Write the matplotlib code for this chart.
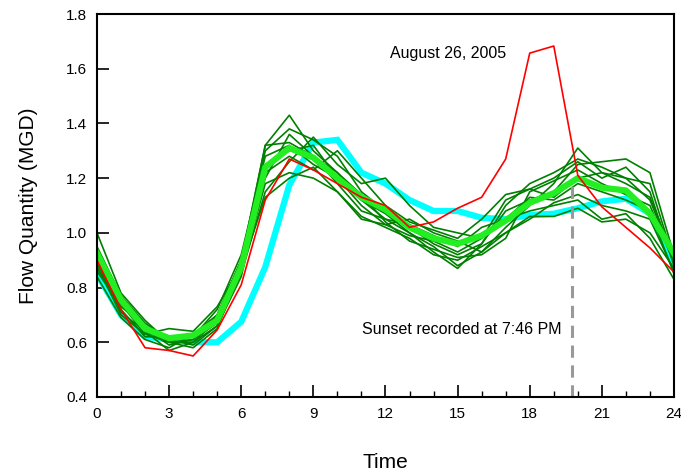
import matplotlib
matplotlib.use('agg')
import matplotlib.pyplot as plt
from matplotlib.ticker import MultipleLocator

plt.rcParams['font.family'] = ['Liberation Sans', 'DejaVu Sans']

hours = list(range(25))

# August 26, 2005
aug26 = [0.90, 0.72, 0.58, 0.57, 0.55, 0.645, 0.81, 1.12, 1.27, 1.23, 1.18, 1.13, 1.10,
         1.02, 1.04, 1.09, 1.13, 1.27, 1.657, 1.683, 1.21, 1.095, 1.02, 0.945, 0.857]

# cyan thick curve
cyan_curve = [0.85, 0.70, 0.62, 0.61, 0.60, 0.60, 0.675, 0.875, 1.175, 1.33, 1.34, 1.22, 1.18,
              1.12, 1.08, 1.08, 1.055, 1.05, 1.065, 1.07, 1.09, 1.115, 1.125, 1.07, 0.89]

# bright green average
avg_curve = [0.925, 0.755, 0.65, 0.615, 0.625, 0.68, 0.875, 1.24, 1.31, 1.275, 1.20, 1.13, 1.085,
             1.02, 0.98, 0.96, 0.99, 1.045, 1.11, 1.145, 1.20, 1.165, 1.155, 1.07, 0.925]

# individual days (thin dark green)
days = [
    [1.00, 0.78, 0.68, 0.60, 0.61, 0.70, 0.90, 1.32, 1.43, 1.30, 1.22, 1.12, 1.05, 1.00, 0.95, 0.88, 0.93, 1.02, 1.10, 1.18, 1.31, 1.22, 1.20, 1.12, 0.90],
    [0.93, 0.75, 0.64, 0.57, 0.60, 0.68, 0.88, 1.30, 1.38, 1.34, 1.28, 1.15, 1.08, 1.02, 0.96, 0.92, 0.96, 1.08, 1.12, 1.15, 1.25, 1.26, 1.27, 1.22, 0.92],
    [0.90, 0.72, 0.62, 0.62, 0.62, 0.72, 0.92, 1.28, 1.32, 1.25, 1.20, 1.10, 1.03, 0.99, 0.97, 0.93, 0.98, 1.12, 1.16, 1.20, 1.26, 1.20, 1.24, 1.15, 0.88],
    [0.88, 0.70, 0.63, 0.65, 0.64, 0.73, 0.88, 1.20, 1.36, 1.28, 1.18, 1.08, 1.05, 1.03, 0.99, 0.95, 1.02, 1.05, 1.08, 1.10, 1.12, 1.05, 1.07, 0.98, 0.83],
    [0.86, 0.73, 0.66, 0.61, 0.59, 0.66, 0.85, 1.15, 1.26, 1.35, 1.25, 1.18, 1.20, 1.10, 1.02, 1.00, 0.98, 1.05, 1.13, 1.12, 1.18, 1.15, 1.12, 1.08, 0.85],
    [0.92, 0.76, 0.65, 0.59, 0.61, 0.67, 0.86, 1.18, 1.22, 1.20, 1.15, 1.05, 1.03, 1.05, 1.00, 0.97, 0.93, 1.00, 1.06, 1.06, 1.09, 1.04, 1.05, 1.00, 0.87],
    [0.84, 0.69, 0.61, 0.58, 0.63, 0.70, 0.90, 1.25, 1.30, 1.32, 1.20, 1.12, 1.07, 1.00, 0.93, 0.87, 0.96, 1.10, 1.18, 1.22, 1.27, 1.24, 1.20, 1.18, 0.90],
    [0.89, 0.71, 0.64, 0.60, 0.58, 0.65, 0.87, 1.13, 1.20, 1.24, 1.15, 1.06, 1.02, 0.98, 0.92, 0.90, 0.95, 1.00, 1.05, 1.11, 1.14, 1.10, 1.08, 1.05, 0.86],
    [0.95, 0.77, 0.67, 0.61, 0.62, 0.69, 0.89, 1.32, 1.33, 1.28, 1.22, 1.14, 1.04, 0.97, 0.94, 0.91, 0.92, 0.98, 1.15, 1.19, 1.23, 1.18, 1.14, 1.10, 0.89],
    [0.87, 0.74, 0.63, 0.60, 0.60, 0.66, 0.84, 1.22, 1.28, 1.23, 1.30, 1.20, 1.10, 1.04, 1.01, 0.98, 1.05, 1.14, 1.16, 1.13, 1.20, 1.22, 1.18, 1.13, 0.91],
]

sunset = 19 + 46 / 60.0

fig = plt.figure(figsize=(6.81, 4.73), dpi=100)
ax = fig.add_axes([0.1424, 0.1607, 0.8473, 0.8097])

ax.plot(hours, cyan_curve, color='#00FFFF', lw=4.5, solid_joinstyle='miter')
for d in days:
    ax.plot(hours, d, color='#008000', lw=1.2)
ax.plot(hours, avg_curve, color='#22EE22', lw=4.5)
ax.plot(hours, aug26, color='#FF0000', lw=1.2)
ax.plot([sunset, sunset], [0.4, 1.17], color='#999999', lw=2.2, ls=(0, (4, 2.5)))

ax.text(14.6, 1.654, 'August 26, 2005', fontsize=11.5, ha='center', va='center')
ax.text(19.34, 0.645, 'Sunset recorded at 7:46 PM', fontsize=11.5, ha='right', va='center')

ax.set_xlim(0, 24)
ax.set_ylim(0.4, 1.8)
ax.xaxis.set_major_locator(MultipleLocator(3))
ax.xaxis.set_minor_locator(MultipleLocator(1))
ax.yaxis.set_major_locator(MultipleLocator(0.2))
ax.yaxis.set_major_formatter(matplotlib.ticker.FormatStrFormatter('%.1f'))
ax.tick_params(which='major', direction='in', length=8.5, width=1.2, labelsize=11, pad=7)
ax.tick_params(which='minor', direction='in', length=4.5, width=1.0)
ax.tick_params(top=False, right=False)
for s in ax.spines.values():
    s.set_linewidth(1.5)

ax.set_xlabel('Time', fontsize=15, labelpad=23)
ax.set_ylabel('Flow Quantity (MGD)', fontsize=15, labelpad=20)

plt.savefig('out.png', dpi=100)
